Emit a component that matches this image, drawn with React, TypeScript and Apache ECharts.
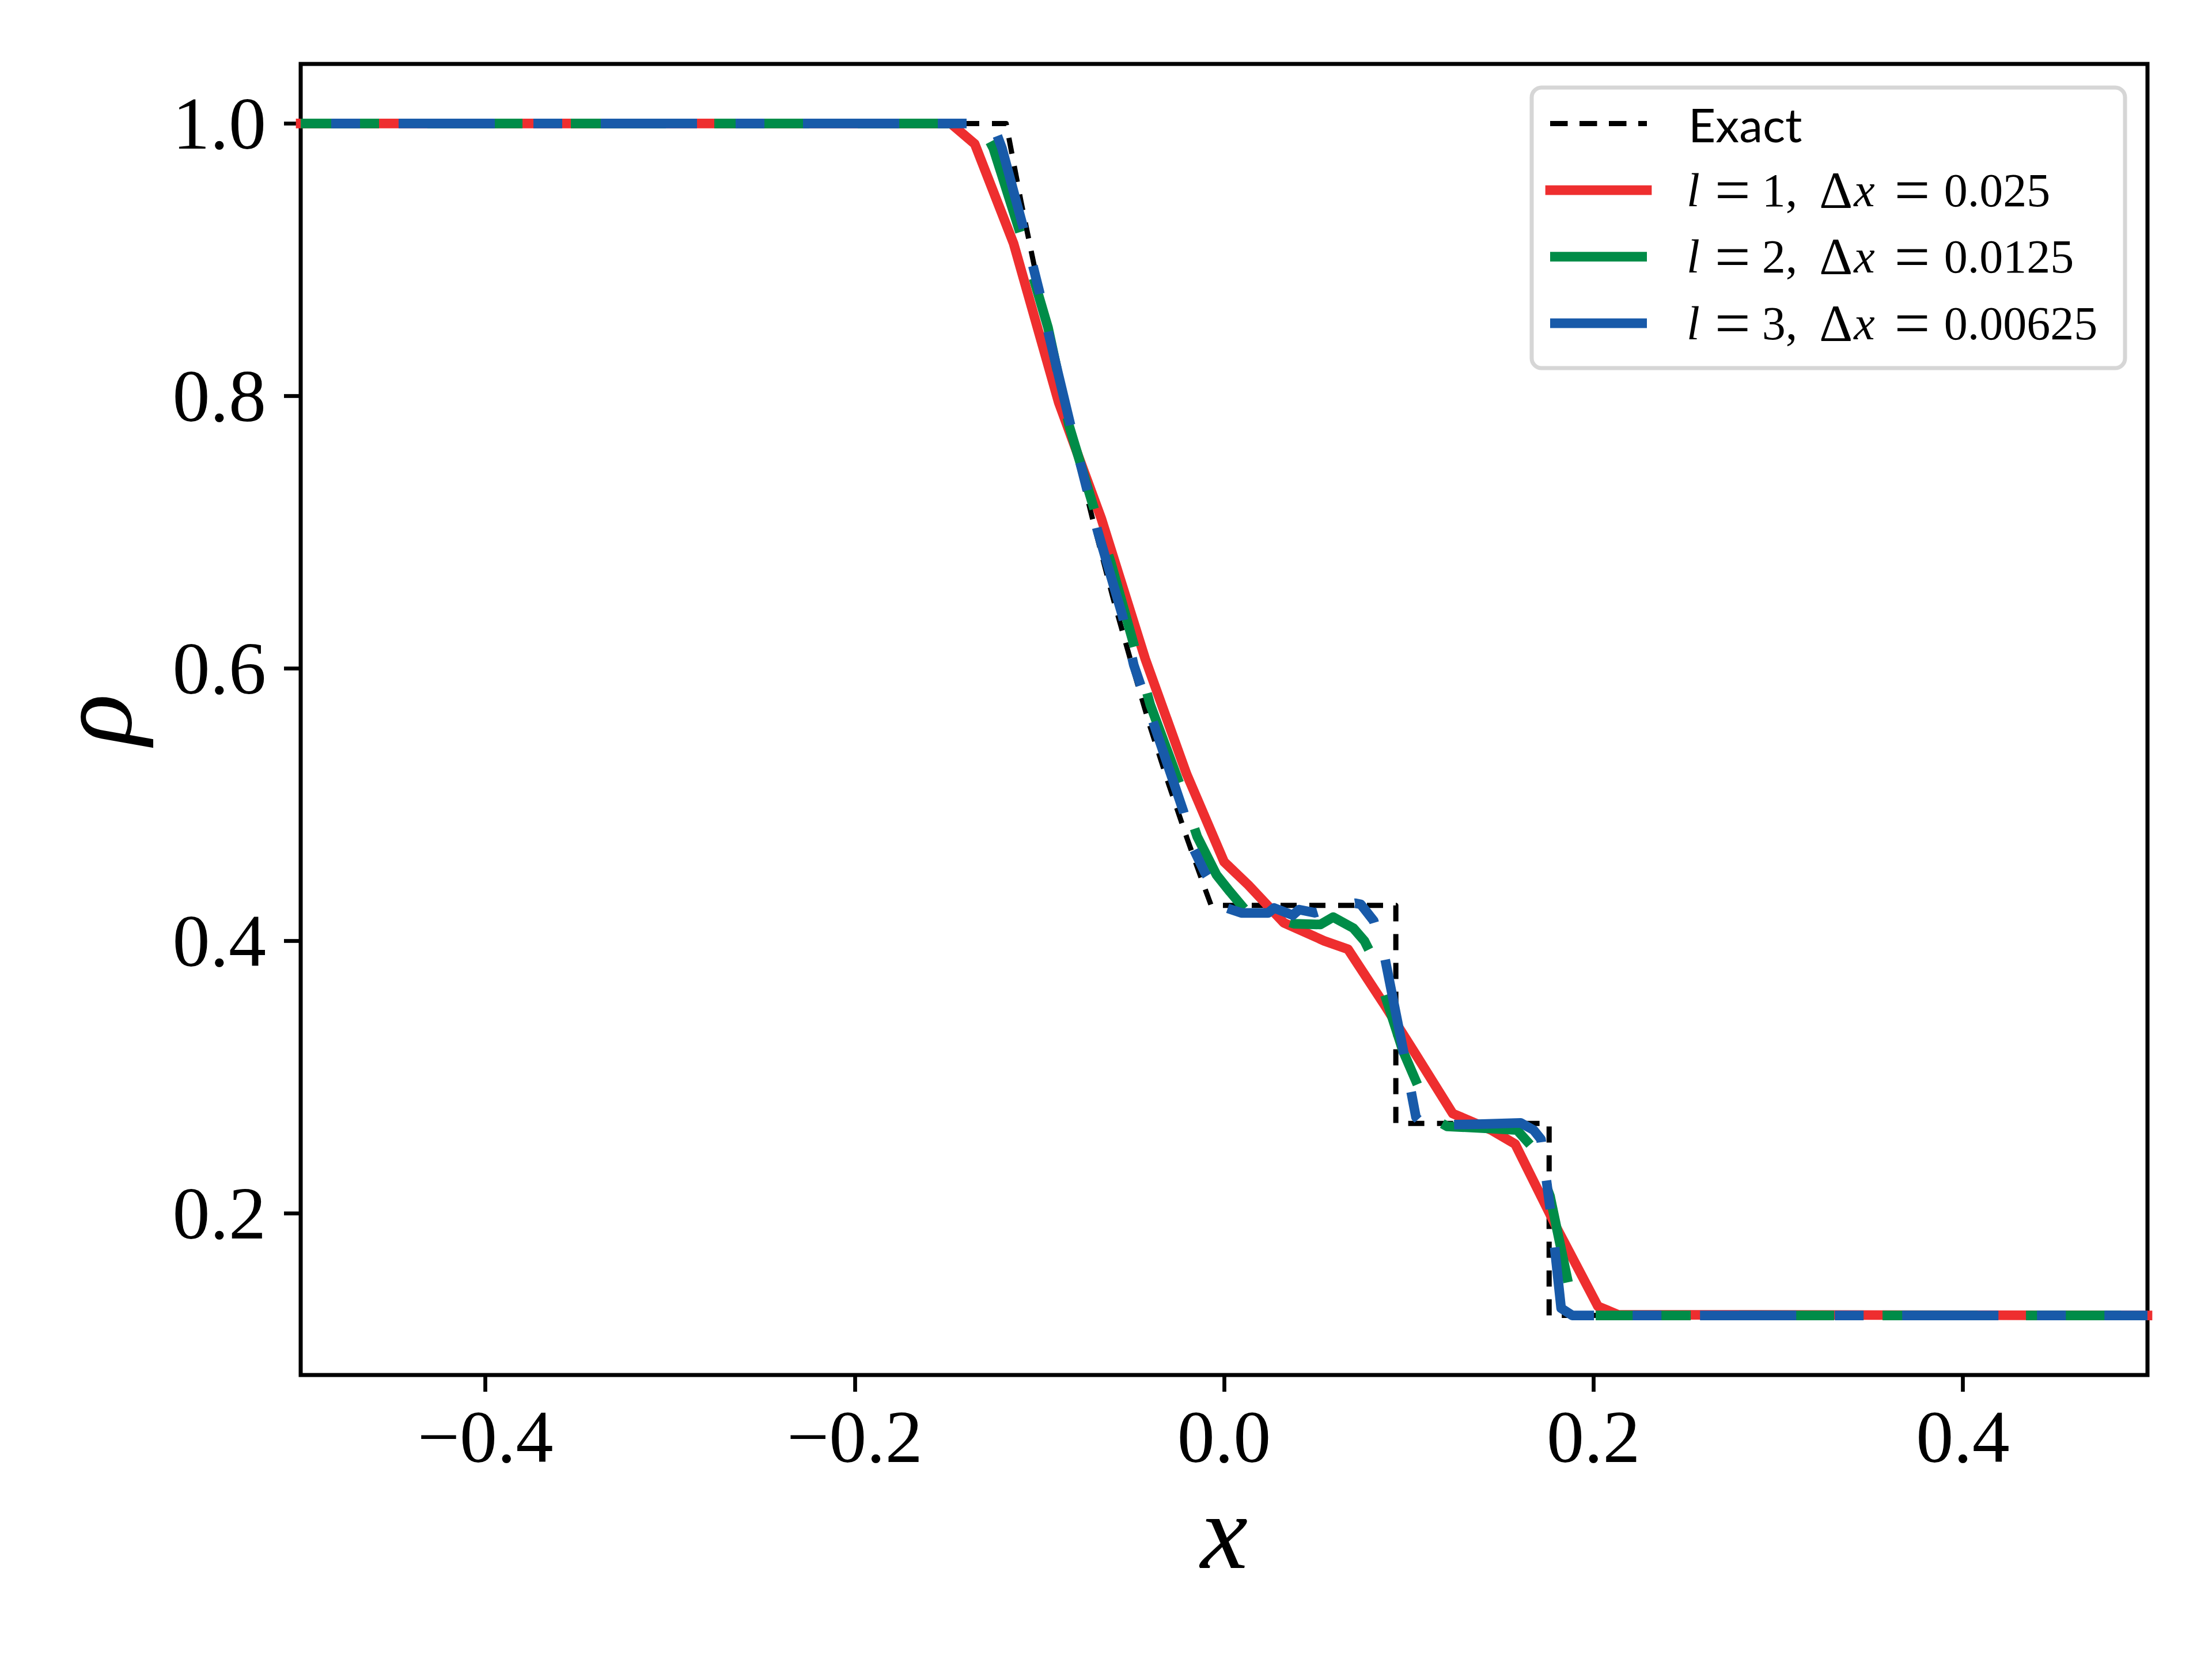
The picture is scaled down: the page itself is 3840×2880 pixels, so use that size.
import React, { useEffect, useRef } from "react";
import * as echarts from "echarts";

// ---------- data ----------
const X_TICKS = [-0.4, -0.2, 0.0, 0.2, 0.4];
const Y_TICKS = [0.2, 0.4, 0.6, 0.8, 1.0];
const X_RANGE = [-0.5, 0.5];
const Y_RANGE = [0.08125, 1.04375];

const SERIES_NAMES = [
  "Exact",
  "l = 1, Δx = 0.025",
  "l = 2, Δx = 0.0125",
  "l = 3, Δx = 0.00625",
];

const exactPoints: number[][] = [
  [-0.5, 1.0], [-0.118, 1.0], [-0.11, 0.943], [-0.1, 0.877], [-0.09, 0.816],
  [-0.08, 0.758], [-0.07, 0.703], [-0.06, 0.651], [-0.05, 0.603], [-0.04, 0.557],
  [-0.03, 0.515], [-0.02, 0.475], [-0.01, 0.437], [-0.007, 0.426], [0.093, 0.426],
  [0.093, 0.266], [0.176, 0.266], [0.176, 0.125], [0.5, 0.125],
];

const l1Points: number[][] = [
  [-0.5, 1.0], [-0.148, 1.0], [-0.135, 0.985], [-0.114, 0.912], [-0.0895, 0.795],
  [-0.0666, 0.7105], [-0.0427, 0.607], [-0.0203, 0.5224], [0.0, 0.458], [0.0131, 0.441],
  [0.0323, 0.4133], [0.0542, 0.4], [0.0671, 0.3938], [0.087, 0.3527], [0.1039, 0.3164],
  [0.1238, 0.2732], [0.1447, 0.2611], [0.1576, 0.2508], [0.1805, 0.1883], [0.2024, 0.1317],
  [0.2134, 0.1255], [0.5, 0.125],
];

const l2Points: number[][] = [
  [-0.5, 1.0], [-0.132, 1.0], [-0.125, 0.982], [-0.11, 0.918], [-0.0953, 0.85],
  [-0.0839, 0.778], [-0.0697, 0.714], [-0.0614, 0.678], [-0.05, 0.623], [-0.04, 0.5734],
  [-0.0234, 0.5127], [-0.0146, 0.4767], [-0.0041, 0.4484], [0.0031, 0.4362], [0.0123, 0.4214],
  [0.025, 0.418], [0.0381, 0.4125], [0.0521, 0.412], [0.0591, 0.4174], [0.07, 0.4093],
  [0.076, 0.3999], [0.08, 0.3891], [0.0889, 0.3527], [0.0969, 0.319], [0.1059, 0.2907],
  [0.1125, 0.27], [0.1208, 0.2638], [0.14, 0.2625], [0.1586, 0.2611], [0.1666, 0.249],
  [0.1765, 0.2125], [0.1865, 0.1478], [0.193, 0.127], [0.2, 0.125], [0.5, 0.125],
];

const l3Points: number[][] = [
  [-0.5, 1.0], [-0.126, 1.0], [-0.1228, 0.991], [-0.1203, 0.982], [-0.109, 0.925],
  [-0.1, 0.8765], [-0.0953, 0.8473], [-0.0833, 0.7794], [-0.0687, 0.702], [-0.0551, 0.639],
  [-0.0489, 0.6025], [-0.0385, 0.561], [-0.022, 0.495], [-0.0167, 0.468], [-0.0104, 0.45],
  [0.0016, 0.424], [0.0094, 0.4205], [0.0239, 0.4205], [0.0271, 0.4241], [0.0372, 0.4188],
  [0.0406, 0.4229], [0.0491, 0.4206], [0.06, 0.425], [0.071, 0.4276], [0.074, 0.4268],
  [0.081, 0.4147], [0.087, 0.3878], [0.0969, 0.3204], [0.1039, 0.2705], [0.108, 0.2645],
  [0.1228, 0.265], [0.14, 0.2655], [0.1606, 0.2663], [0.1676, 0.2611], [0.1716, 0.2543],
  [0.1745, 0.2246], [0.1775, 0.1937], [0.1825, 0.1303], [0.1885, 0.125], [0.5, 0.125],
];

// ---------- styling ----------
const COLORS = ["#000000", "#ee2e2f", "#008c48", "#185aa9"];
const SERIF = "'Liberation Serif', 'DejaVu Serif', serif";
const SANS = "Lato, 'DejaVu Sans', sans-serif";

const fmtTick = (v: number) => (v < 0 ? "\u2212" : "") + Math.abs(v).toFixed(1);

function legendRich(name: string): string {
  if (name === "Exact") return "{s|Exact}";
  const m = name.match(/^l = (\d), Δx = ([\d.]+)$/);
  if (!m) return `{r|${name}}`;
  return `{il|l}{eq1|=}{n|${m[1]},}{d|Δ}{ix|x}{eq2|=}{v|${m[2]}}`;
}

const base = { fontFamily: SERIF, fontSize: 82, fill: "#000", lineHeight: 82 };
const RICH = {
  s: { fontFamily: SANS, fontSize: 82, fill: "#000", lineHeight: 82 },
  r: { ...base },
  il: { ...base, fontStyle: "italic" },
  eq1: { ...base, fontSize: 110, padding: [0, 0, 0, 26] },
  n: { ...base, padding: [0, 0, 0, 20] },
  d: { ...base, fontSize: 90, padding: [0, 0, 0, 38] },
  ix: { ...base, fontStyle: "italic", padding: [0, 0, 0, 2] },
  eq2: { ...base, fontSize: 110, padding: [0, 0, 0, 34] },
  v: { ...base, padding: [0, 0, 0, 24] },
};

export default function App() {
  const ref = useRef<HTMLDivElement>(null);

  useEffect(() => {
    if (!ref.current) return;
    const chart = echarts.init(ref.current, null, { renderer: "svg" });

    const gridLeft = 522;
    const gridTop = 111;
    const gridW = 3206;
    const gridH = 2276;

    // legend (matplotlib style frame drawn with graphic elements)
    const legX = 2659;
    const legY = 152;
    const rowY0 = 214.6;
    const rowPitch = 115.5;
    const legendGraphics: any[] = [
      {
        type: "rect",
        z: 10,
        shape: { x: legX, y: legY, width: 1030, height: 487, r: 17 },
        style: { fill: "#ffffff", stroke: "#d6d6d6", lineWidth: 7 },
      },
    ];
    SERIES_NAMES.forEach((name, i) => {
      const cy = rowY0 + i * rowPitch;
      const isExact = i === 0;
      legendGraphics.push({
        type: "line",
        z: 11,
        shape: { x1: 2691, y1: cy, x2: 2859, y2: cy },
        style: {
          stroke: COLORS[i],
          lineWidth: isExact ? 9 : 16.7,
          lineDash: isExact ? [30.5, 20.5] : null,
          lineCap: i === 1 ? "square" : "butt",
        },
      });
      legendGraphics.push({
        type: "text",
        z: 11,
        x: isExact ? 2931 : 2928,
        y: cy,
        style: {
          text: legendRich(name),
          rich: RICH,
          align: "left",
          verticalAlign: "middle",
          fontFamily: SERIF,
          fontSize: 82,
          fill: "#000",
        },
      });
    });

    const lineSeries = (name: string, data: number[][], idx: number, extra: any) => ({
      name,
      type: "line",
      data,
      symbol: "none",
      showSymbol: false,
      clip: true,
      silent: true,
      smooth: false,
      lineStyle: { color: COLORS[idx], join: "round", ...extra },
      itemStyle: { color: COLORS[idx] },
      emphasis: { disabled: true },
      z: 2 + idx,
    });

    chart.setOption({
      animation: false,
      backgroundColor: "#ffffff",
      grid: {
        left: gridLeft,
        top: gridTop,
        width: gridW,
        height: gridH,
        show: true,
        borderColor: "#000",
        borderWidth: 7,
        backgroundColor: "transparent",
        containLabel: false,
      },
      xAxis: {
        type: "value",
        position: "bottom",
        min: X_RANGE[0],
        max: X_RANGE[1],
        name: "x",
        nameLocation: "middle",
        nameGap: 180,
        nameTextStyle: {
          fontFamily: SERIF,
          fontStyle: "italic",
          fontSize: 185,
          color: "#000",
        },
        splitLine: { show: false },
        axisLine: { show: false, onZero: false },
        axisTick: {
          show: true,
          inside: false,
          length: 29,
          customValues: X_TICKS,
          lineStyle: { color: "#000", width: 6.7 },
        },
        axisLabel: {
          show: true,
          customValues: X_TICKS,
          formatter: (v: number) => fmtTick(v),
          margin: 42,
          fontFamily: SERIF,
          fontSize: 130,
          color: "#000",
        },
      },
      yAxis: {
        type: "value",
        position: "left",
        min: Y_RANGE[0],
        max: Y_RANGE[1],
        name: "ρ",
        nameLocation: "middle",
        nameRotate: 90,
        nameGap: 265,
        nameTextStyle: {
          fontFamily: SERIF,
          fontStyle: "italic",
          fontSize: 185,
          color: "#000",
        },
        splitLine: { show: false },
        axisLine: { show: false, onZero: false },
        axisTick: {
          show: true,
          inside: false,
          length: 29,
          customValues: Y_TICKS,
          lineStyle: { color: "#000", width: 6.7 },
        },
        axisLabel: {
          show: true,
          customValues: Y_TICKS,
          formatter: (v: number) => fmtTick(v),
          margin: 60,
          fontFamily: SERIF,
          fontSize: 130,
          color: "#000",
        },
      },
      tooltip: { show: false },
      legend: { show: false },
      graphic: legendGraphics,
      series: [
        lineSeries(SERIES_NAMES[0], exactPoints, 0, { width: 9, type: [28, 22], cap: "butt" }),
        lineSeries(SERIES_NAMES[1], l1Points, 1, { width: 16.7, type: "solid", cap: "square" }),
        lineSeries(SERIES_NAMES[2], l2Points, 2, {
          width: 16.7,
          type: [165, 84],
          dashOffset: 29,
          cap: "butt",
        }),
        lineSeries(SERIES_NAMES[3], l3Points, 3, {
          width: 16.7,
          type: [167, 67, 50, 67],
          dashOffset: 181,
          cap: "butt",
        }),
      ],
    });

    return () => {
      chart.dispose();
    };
  }, []);

  return (
    <div
      ref={ref}
      style={{
        position: "absolute",
        left: 0,
        top: 0,
        width: 3840,
        height: 2880,
        background: "#ffffff",
      }}
    />
  );
}
